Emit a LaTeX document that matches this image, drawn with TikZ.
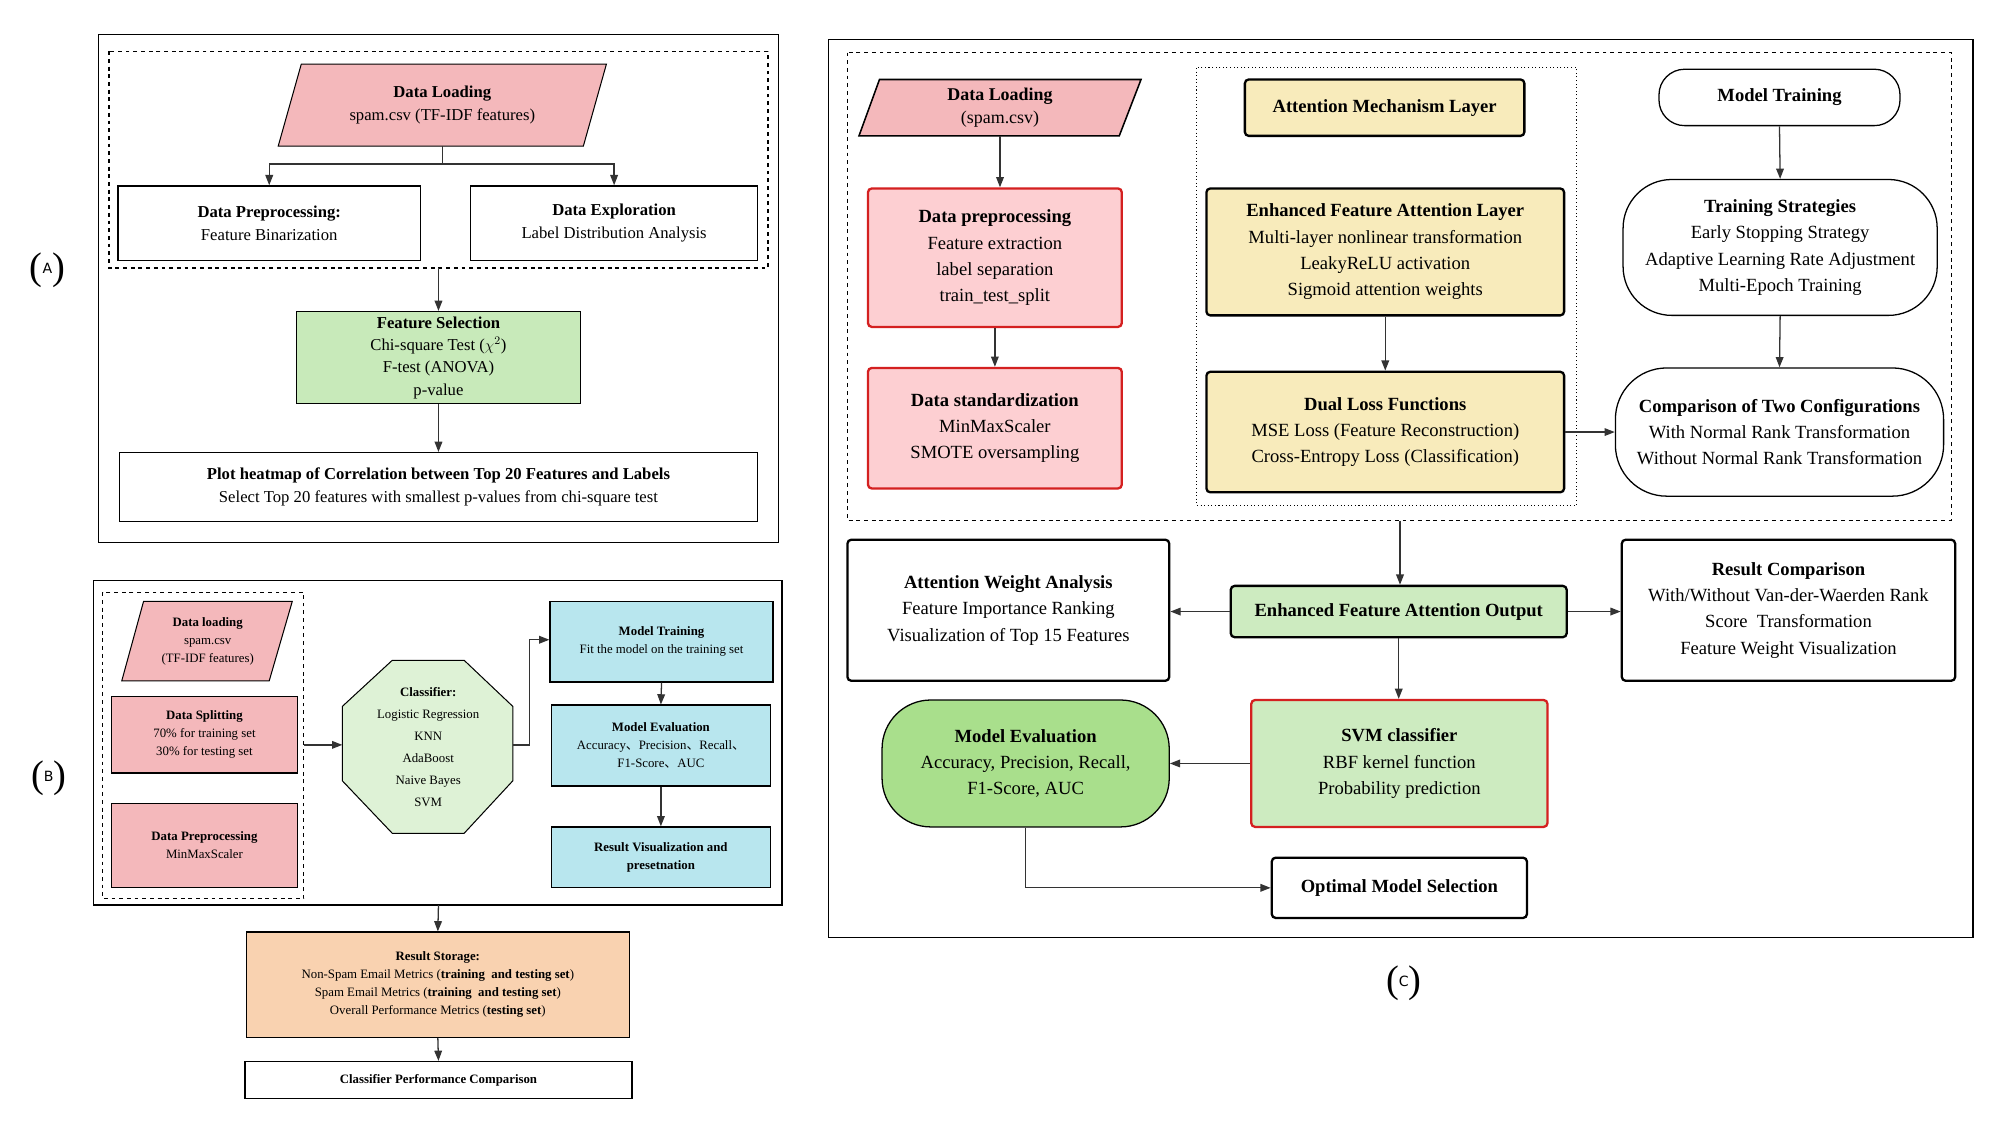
\documentclass[tikz,border=0pt]{standalone}
\usepackage{fontspec}
\setmainfont{Liberation Serif}
\newfontfamily\lblfont{DejaVu Sans}
\newfontfamily\cjk{Noto Sans CJK SC}
\usetikzlibrary{arrows.meta}
\definecolor{pinkA}{HTML}{F4B8BB}
\definecolor{greenA}{HTML}{C8EABA}
\definecolor{cyanB}{HTML}{B8E6EE}
\definecolor{orangeB}{HTML}{F9D2B0}
\definecolor{pinkC}{HTML}{FDCFD2}
\definecolor{redC}{HTML}{D42020}
\definecolor{yellowC}{HTML}{F8EBBB}
\definecolor{greenME}{HTML}{A9DF8C}
\definecolor{greenSVM}{HTML}{CDEBC0}
\definecolor{lineC}{HTML}{333333}
\tikzset{
 arr/.style={draw=lineC,line width=1pt,-{Triangle[length=8pt,width=6pt]}},
 ln/.style={draw=lineC,line width=1pt},
 bx/.style={draw=black,line width=1pt,align=center,inner sep=2pt},
 fa/.style={font=\fontsize{13}{18}\selectfont},
 fb/.style={font=\fontsize{10}{14}\selectfont},
 fc/.style={font=\fontsize{14.5}{20.5}\selectfont},
 thk/.style={line width=1.8pt,rounded corners=3pt},
 lab/.style={font=\fontsize{30}{30}\selectfont},
}
\newcommand{\plab}[1]{(\raisebox{0.35ex}{\lblfont\fontsize{11}{11}\selectfont #1})}
\newcommand{\dun}{{\cjk 、}}
\begin{document}
\begin{tikzpicture}[x=1pt,y=-1pt]
\useasboundingbox[fill=white] (0,0) rectangle (1560,877.5);
%% ---------------- Panel A
\draw[line width=1pt] (77,27) rectangle (607,423);
\draw[line width=1pt,dashed] (85,40) rectangle (599,209);
\node[lab] (labA) at (37,211) {\plab{A}};
\filldraw[fill=pinkA,draw=black,line width=0.8pt] (235,50)--(473,50)--(455,114)--(217,114)--cycle;
\node[fa,align=center] (dlA) at (345,82) {\textbf{Data Loading}\\spam.csv (TF-IDF features)};
\node[bx,fa,minimum width=236,minimum height=58] (prepA) at (210,174) {\textbf{Data Preprocessing:}\\Feature Binarization};
\node[bx,fa,minimum width=224,minimum height=58] (explA) at (479,174) {\textbf{Data Exploration}\\Label Distribution Analysis};
\node[bx,fa,fill=greenA,minimum width=222,minimum height=72,font=\fontsize{13}{17.5}\selectfont] (fsA) at (342,279) {\textbf{Feature Selection}\\Chi-square Test ($\chi^2$)\\F-test (ANOVA)\\p-value};
\node[bx,fa,minimum width=498,minimum height=54] (heatA) at (342,380) {\textbf{Plot heatmap of Correlation between Top 20 Features and Labels}\\Select Top 20 features with smallest p-values from chi-square test};
\coordinate (splitA) at (345,128);
\coordinate (dashA) at (342,209);
\draw[ln] (345,114) -- (splitA);
\draw[arr] (splitA) -| (prepA.north);
\draw[arr] (splitA) -| (explA.north);
\draw[arr] (dashA) -- (fsA.north);
\draw[arr] (fsA.south) -- (heatA.north);
%% ---------------- Panel B
\draw[line width=1pt] (73,453) rectangle (610,706);
\draw[line width=0.9pt,dashed] (80,462) rectangle (237,701);
\node[lab] (labB) at (38,607) {\plab{B}};
\filldraw[fill=pinkA,draw=black,line width=0.8pt] (112,469)--(228,469)--(210,531)--(95,531)--cycle;
\node[fb,align=center] (dlB) at (162,500) {\textbf{Data loading}\\spam.csv\\(TF-IDF features)};
\node[bx,fb,fill=pinkA,minimum width=145,minimum height=60] (splitB) at (159.5,573) {\textbf{Data Splitting}\\70\% for training set\\30\% for testing set};
\node[bx,fb,fill=pinkA,minimum width=145,minimum height=65] (preB) at (159.5,659.5) {\textbf{Data Preprocessing}\\MinMaxScaler};
\filldraw[fill=greenA!60,draw=black,line width=0.8pt] (306,515)--(362,515)--(400,551)--(400,609)--(362,650)--(306,650)--(267,609)--(267,551)--cycle;
\node[fb,align=center,font=\fontsize{10}{17.2}\selectfont] (octB) at (334,583) {\textbf{Classifier:}\\Logistic Regression\\KNN\\AdaBoost\\Naive Bayes\\SVM};
\coordinate (octL) at (267,581);
\coordinate (octR) at (400,581);
\coordinate (dashBR) at (237,581);
\coordinate (bendB) at (413,499);
\node[bx,fb,fill=cyanB,minimum width=174,minimum height=63] (mtB) at (516,500.5) {\textbf{Model Training}\\Fit the model on the training set};
\node[bx,fb,fill=cyanB,minimum width=171,minimum height=63] (meB) at (515.5,581.5) {\textbf{Model Evaluation}\\Accuracy\dun Precision\dun Recall\dun\\F1-Score\dun AUC};
\node[bx,fb,fill=cyanB,minimum width=171,minimum height=47] (rvB) at (515.5,668.5) {\textbf{Result Visualization and}\\\textbf{presetnation}};
\node[bx,fb,fill=orangeB,minimum width=299,minimum height=82] (rsB) at (341.5,768) {\textbf{Result Storage:}\\Non-Spam Email Metrics (\textbf{training\ \ and testing set})\\Spam Email Metrics (\textbf{training\ \ and testing set})\\Overall Performance Metrics (\textbf{testing set})};
\node[bx,fb,minimum width=302,minimum height=29] (cpcB) at (342,842.5) {\textbf{Classifier Performance Comparison}};
\coordinate (outB) at (342,706);
\draw[arr] (dashBR) -- (octL);
\draw[arr] (octR) -| (bendB) -- (mtB.west|-bendB);
\draw[arr] (mtB.south) -- (meB.north);
\draw[arr] (meB.south) -- (rvB.north);
\draw[arr] (outB) -- (rsB.north);
\draw[arr] (rsB.south) -- (cpcB.north);
%% ---------------- Panel C
\draw[line width=1pt] (646,31) rectangle (1539,731);
\draw[line width=1pt,dashed] (661,41) rectangle (1522,406);
\draw[line width=0.8pt,dotted] (933,53) rectangle (1230,394);
\node[lab] (labC) at (1095,767) {\plab{C}};
\filldraw[fill=pinkA,draw=black,line width=1.2pt] (686,62)--(890,62)--(873,106)--(670,106)--cycle;
\node[fc,align=center,font=\fontsize{14}{18}\selectfont] (dlC) at (780,84) {\textbf{Data Loading}\\(spam.csv)};
\node[bx,fc,fill=pinkC,draw=redC,thk,minimum width=198,minimum height=108] (dpC) at (776,201) {\textbf{Data preprocessing}\\Feature extraction\\label separation\\train\_test\_split};
\node[bx,fc,fill=pinkC,draw=redC,thk,minimum width=198,minimum height=94] (dsC) at (776,334) {\textbf{Data standardization}\\MinMaxScaler\\SMOTE oversampling};
\node[bx,fc,fill=yellowC,thk,minimum width=218,minimum height=44] (amlC) at (1080,84) {\textbf{Attention Mechanism Layer}};
\node[bx,fc,fill=yellowC,thk,minimum width=279,minimum height=99] (efalC) at (1080.5,196.5) {\textbf{Enhanced Feature Attention Layer}\\Multi-layer nonlinear transformation\\LeakyReLU activation\\Sigmoid attention weights};
\node[bx,fc,fill=yellowC,thk,minimum width=279,minimum height=94] (dualC) at (1080.5,337) {\textbf{Dual Loss Functions}\\MSE Loss (Feature Reconstruction)\\Cross-Entropy Loss (Classification)};
\node[bx,fc,rounded corners=20pt,minimum width=188,minimum height=44] (mtrC) at (1388,76) {\textbf{Model Training}};
\node[bx,fc,rounded corners=38pt,minimum width=245,minimum height=106] (tsC) at (1388.5,193) {\textbf{Training Strategies}\\Early Stopping Strategy\\Adaptive Learning Rate Adjustment\\Multi-Epoch Training};
\node[bx,fc,rounded corners=40pt,minimum width=256,minimum height=100] (cmpC) at (1388,337) {\textbf{Comparison of Two Configurations}\\With Normal Rank Transformation\\Without Normal Rank Transformation};
\node[bx,fc,fill=greenSVM,thk,minimum width=262,minimum height=40] (outC) at (1091,477) {\textbf{Enhanced Feature Attention Output}};
\node[bx,fc,thk,minimum width=251,minimum height=110] (awaC) at (786.5,476) {\textbf{Attention Weight Analysis}\\Feature Importance Ranking\\Visualization of Top 15 Features};
\node[bx,fc,thk,minimum width=260,minimum height=110] (rcC) at (1395,476) {\textbf{Result Comparison}\\With/Without Van-der-Waerden Rank\\Score\ \ Transformation\\Feature Weight Visualization};
\node[bx,fc,fill=greenSVM,draw=redC,thk,minimum width=231,minimum height=99] (svmC) at (1091.5,595.5) {\textbf{SVM classifier}\\RBF kernel function\\Probability prediction};
\node[bx,fc,fill=greenME,rounded corners=38pt,minimum width=224,minimum height=99] (mevC) at (800,595.5) {\textbf{Model Evaluation}\\Accuracy, Precision, Recall,\\F1-Score, AUC};
\node[bx,fc,thk,minimum width=199,minimum height=47] (omsC) at (1091.5,692.5) {\textbf{Optimal Model Selection}};
\coordinate (dashC) at (1092,406);
\draw[arr] (dlC.south|-0,106) -- (dlC.south|-dpC.north);
\draw[arr] (dpC.south) -- (dsC.north);
\draw[arr] (efalC.south) -- (efalC.south|-dualC.north);
\draw[arr] (dualC.east) -- (cmpC.west|-dualC.east);
\draw[arr] (mtrC.south) -- (tsC.north);
\draw[arr] (tsC.south) -- (cmpC.north);
\draw[arr] (dashC) -- (dashC|-outC.north);
\draw[arr] (outC.west) -- (awaC.east|-outC.west);
\draw[arr] (outC.east) -- (rcC.west|-outC.east);
\draw[arr] (outC.south) -- (outC.south|-svmC.north);
\draw[arr] (svmC.west) -- (mevC.east);
\draw[arr] (mevC.south) |- (omsC.west);
\end{tikzpicture}
\end{document}
